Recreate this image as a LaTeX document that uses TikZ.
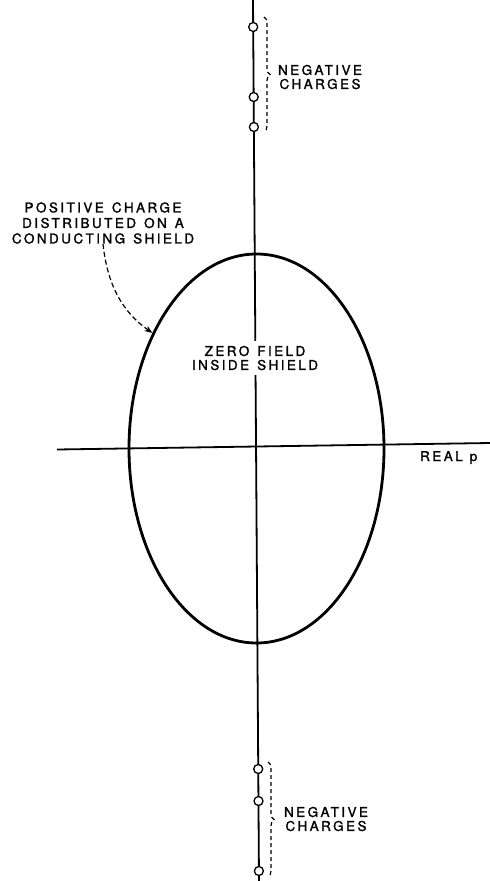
\documentclass[tikz,border=0pt]{standalone}
\usepackage{fontspec}
\setmainfont{TeX Gyre Heros}
\newfontfamily\lbl[LetterSpace=18,WordSpace=1.3,FakeBold=1.4]{TeX Gyre Heros}
\newfontfamily\lblp[FakeBold=1.4]{TeX Gyre Heros}
\usetikzlibrary{shapes.geometric,decorations.pathreplacing,arrows.meta}
\begin{document}
\begin{tikzpicture}[x=1pt,y=-1pt,
  axis/.style={line width=1.8pt},
  charge/.style={circle,draw,line width=1.3pt,fill=white,inner sep=0pt,minimum size=9pt,
    path picture={\fill (path picture bounding box.center) circle (1.3pt);}},
  bracestyle/.style={line width=1.2pt,dash pattern=on 4pt off 3pt,decorate,decoration={brace,amplitude=6pt}},
  label/.style={font=\lbl\fontsize{13.5}{14}\selectfont,align=center,inner sep=0pt},
  leader/.style={line width=1.2pt,dash pattern=on 5pt off 3pt,-{Stealth[length=8pt,width=6pt]}}]
\useasboundingbox (0,0) rectangle (490,881);
% axes
\coordinate (vtop) at (253,0);
\coordinate (vbot) at (259,881);
\coordinate (hleft) at (57,449.5);
\coordinate (hright) at (490,443);
\draw[axis] (vtop) -- (vbot);
\draw[axis] (hleft) -- (hright);
% shield
\node[ellipse,draw,line width=2.8pt,minimum width=255pt,minimum height=389pt,inner sep=0pt] (shield) at (256.5,448.5) {};
% charges
\node[charge] (c1) at (253.2,27) {};
\node[charge] (c2) at (253.7,97) {};
\node[charge] (c3) at (253.9,127) {};
\node[charge] (c4) at (258.2,769) {};
\node[charge] (c5) at (258.5,801) {};
\node[charge] (c6) at (258.9,871) {};
% braces
\coordinate (b1a) at (264,17);
\coordinate (b1b) at (264,132);
\coordinate (b2a) at (268,762);
\coordinate (b2b) at (268,877);
\draw[bracestyle] (b1a) -- (b1b);
\draw[bracestyle] (b2a) -- (b2b);
% labels
\node[label] (neg1) at (320,77) {NEGATIVE\\CHARGES};
\node[label] (neg2) at (326,819) {NEGATIVE\\CHARGES};
\node[label,font=\lbl\fontsize{13.5}{15.5}\selectfont] (pos) at (103,223) {POSITIVE CHARGE\\DISTRIBUTED ON A\\CONDUCTING SHIELD};
\node[label,fill=white,inner xsep=3pt,inner ysep=5pt] (zero) at (255,358) {ZERO FIELD\\INSIDE SHIELD};
\node[label,anchor=base west] (real) at (420,461) {REAL\hspace{7pt}{\lblp p}};
% leader
\draw[leader] (pos.south) .. controls (108,292) and (128,316) .. (shield.132);
\end{tikzpicture}
\end{document}
